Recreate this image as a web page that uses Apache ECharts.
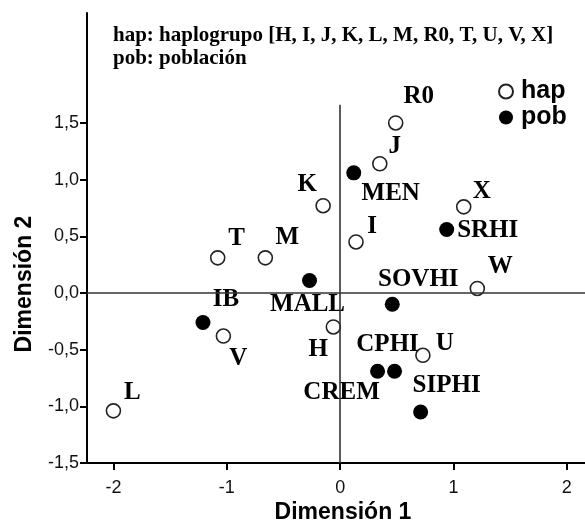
<!DOCTYPE html>
<html>
<head>
<meta charset="utf-8">
<script src="https://cdn.jsdelivr.net/npm/echarts@6/dist/echarts.min.js"></script>
<style>
html,body{margin:0;padding:0;background:#fff;}
#chart{width:585px;height:530px;}
</style>
</head>
<body>
<div id="chart"></div>
<script>
// ---- data ----
var hapNames = ['R0', 'J', 'K', 'I', 'X', 'T', 'M', 'W', 'H', 'V', 'U', 'L'];
var hapX = [0.49, 0.35, -0.15, 0.14, 1.09, -1.08, -0.66, 1.21, -0.06, -1.03, 0.73, -2.00];
var hapY = [1.50, 1.14, 0.77, 0.45, 0.76, 0.31, 0.31, 0.04, -0.30, -0.38, -0.55, -1.04];

var pobNames = ['MEN', 'SRHI', 'MALL', 'SOVHI', 'IB', 'CREM', 'CPHI', 'SIPHI'];
var pobX = [0.12, 0.94, -0.27, 0.46, -1.21, 0.33, 0.48, 0.71];
var pobY = [1.06, 0.56, 0.11, -0.10, -0.26, -0.69, -0.69, -1.05];

var xTicks = [-2, -1, 0, 1, 2];
var yTicks = [-1.5, -1.0, -0.5, 0.0, 0.5, 1.0, 1.5];

var titleLines = ['hap: haplogrupo [H, I, J, K, L, M, R0, T, U, V, X]', 'pob: población'];
var xTitle = 'Dimensión 1';
var yTitle = 'Dimensión 2';

// ---- label placement (styling) ----
var labelOffsets = {
  R0: [23, -26], J: [15, -17], K: [-16, -21], I: [16, -15], X: [18, -15],
  T: [19, -19], M: [22, -20], W: [23, -22], H: [-15, 23], V: [15, 22],
  U: [22, -12], L: [19, -18],
  MEN: [37, 21], SRHI: [41, 1], MALL: [-2, 24], SOVHI: [26, -25],
  IB: [23, -23], CREM: [-36, 21], CPHI: [-7, -27], SIPHI: [26, -26]
};

function build(names, xs, ys) {
  return names.map(function (n, i) {
    return {
      name: n,
      value: [xs[i], ys[i]],
      label: { offset: labelOffsets[n] }
    };
  });
}

var X_MIN = -2.233, X_MAX = 2.16, Y_MIN = -1.5, Y_MAX = 2.47;

var labelStyle = {
  show: true,
  position: 'inside',
  formatter: '{b}',
  fontFamily: '"Liberation Serif", "Times New Roman", serif',
  fontWeight: 'bold',
  fontSize: 25,
  color: '#000',
  textBorderWidth: 0,
  textBorderColor: 'transparent',
  opacity: 1,
  align: 'center',
  verticalAlign: 'middle'
};

var chart = echarts.init(document.getElementById('chart'), null, { renderer: 'canvas' });
chart.setOption({
  animation: false,
  backgroundColor: '#fff',
  grid: { left: 87, right: 0, top: 13, bottom: 67, containLabel: false },
  xAxis: {
    type: 'value', min: X_MIN, max: X_MAX,
    axisLine: { show: true, onZero: false, lineStyle: { color: '#000', width: 2 } },
    axisTick: { show: true, customValues: xTicks, length: 7, lineStyle: { color: '#000', width: 2 } },
    axisLabel: {
      customValues: xTicks, fontSize: 18, color: '#111', margin: 16,
      fontFamily: '"Liberation Sans", Arial, sans-serif',
      formatter: function (v) { return String(Math.round(v)); }
    },
    splitLine: { show: false }
  },
  yAxis: {
    type: 'value', min: Y_MIN, max: Y_MAX,
    axisLine: { show: true, onZero: false, lineStyle: { color: '#000', width: 2 } },
    axisTick: { show: true, customValues: yTicks, length: 7, lineStyle: { color: '#000', width: 2 } },
    axisLabel: {
      customValues: yTicks, fontSize: 18, color: '#111', margin: 8,
      fontFamily: '"Liberation Sans", Arial, sans-serif',
      formatter: function (v) { return v.toFixed(1).replace('.', ','); }
    },
    splitLine: { show: false }
  },
  legend: {
    orient: 'vertical',
    left: 493, top: 74,
    itemWidth: 14, itemHeight: 14, itemGap: 1,
    icon: 'circle',
    data: ['hap', 'pob'],
    textStyle: {
      fontFamily: '"Liberation Sans", Arial, sans-serif',
      fontWeight: 'bold', fontSize: 25, color: '#000', lineHeight: 24,
      padding: [0, 0, 0, 3]
    }
  },
  graphic: [
    {
      type: 'text', left: 113, top: 24,
      style: {
        text: titleLines.join('\n'),
        font: 'bold 21px "Liberation Serif", "Times New Roman", serif',
        lineHeight: 23, fill: '#000'
      }
    },
    {
      type: 'text', x: 343, y: 513,
      style: {
        text: xTitle, align: 'center', verticalAlign: 'middle',
        font: 'bold 23px "Liberation Sans", Arial, sans-serif', fill: '#000'
      }
    },
    {
      type: 'text', x: 25, y: 284, rotation: Math.PI / 2,
      style: {
        text: yTitle, align: 'center', verticalAlign: 'middle',
        font: 'bold 23px "Liberation Sans", Arial, sans-serif', fill: '#000'
      }
    }
  ],
  series: [
    {
      name: 'hap', type: 'scatter', symbol: 'circle', symbolSize: 14,
      itemStyle: { color: '#fff', borderColor: '#222', borderWidth: 1.6, opacity: 1 },
      label: labelStyle,
      data: build(hapNames, hapX, hapY),
      z: 3,
      markLine: {
        silent: true, symbol: 'none', animation: false,
        label: { show: false },
        lineStyle: { color: '#333', width: 1.6, type: 'solid', opacity: 1 },
        data: [
          [{ coord: [0, Y_MIN] }, { coord: [0, 1.66] }],
          [{ coord: [X_MIN, 0] }, { coord: [X_MAX, 0] }]
        ]
      }
    },
    {
      name: 'pob', type: 'scatter', symbol: 'circle', symbolSize: 15,
      itemStyle: { color: '#000', opacity: 1 },
      label: labelStyle,
      data: build(pobNames, pobX, pobY),
      z: 4
    }
  ]
});
</script>
</body>
</html>
